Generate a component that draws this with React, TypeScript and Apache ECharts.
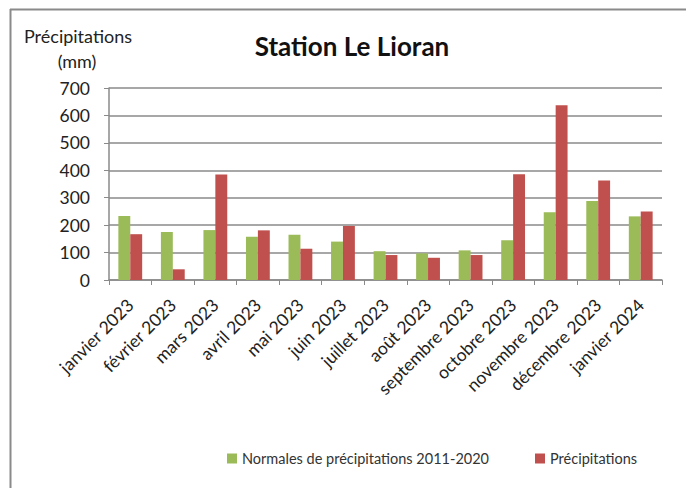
import React, { useEffect, useRef } from "react";
import * as echarts from "echarts";

const categories = [
  "janvier 2023", "février 2023", "mars 2023", "avril 2023", "mai 2023", "juin 2023",
  "juillet 2023", "août 2023", "septembre 2023", "octobre 2023", "novembre 2023",
  "décembre 2023", "janvier 2024",
];
const normales = [233, 175, 182, 158, 165, 140, 105, 97, 108, 145, 247, 288, 232];
const precipitations = [167, 39, 385, 181, 114, 197, 91, 81, 91, 386, 637, 363, 250];
const yTicks = [0, 100, 200, 300, 400, 500, 600, 700];

const FONT = "Lato, 'Open Sans', sans-serif";

export default function App() {
  const ref = useRef<HTMLDivElement>(null);
  useEffect(() => {
    const chart = echarts.init(ref.current!, null, { renderer: "svg" });
    chart.setOption({
      animation: false,
      backgroundColor: "#ffffff",
      textStyle: { fontFamily: FONT },
      title: {
        text: "Station Le Lioran",
        left: 347,
        textAlign: "center",
        top: 28,
        textStyle: { fontSize: 26, fontWeight: "bold", color: "#111", fontFamily: FONT },
      },
      graphic: [
        { type: "line", shape: { x1: 10, y1: 9.5, x2: 686, y2: 9.5 }, style: { stroke: "#8a8a8a", lineWidth: 2 } },
        { type: "line", shape: { x1: 10.5, y1: 9, x2: 10.5, y2: 488 }, style: { stroke: "#8a8a8a", lineWidth: 2 } },
        {
          type: "text", x: 78, y: 27,
          style: { text: "Précipitations", fill: "#222", font: `18px ${FONT}`, align: "center" },
        },
        {
          type: "text", x: 77, y: 52,
          style: { text: "(mm)", fill: "#222", font: `18px ${FONT}`, align: "center" },
        },
      ],
      legend: {
        bottom: 17,
        left: 222,
        itemWidth: 10,
        itemHeight: 10,
        itemGap: 46,
        icon: "rect",
        textStyle: { fontSize: 14.5, color: "#333", fontFamily: FONT },
        data: ["Normales de précipitations 2011-2020", "Précipitations"],
      },
      grid: { left: 109, right: 28, top: 88, bottom: 208, containLabel: false },
      xAxis: {
        type: "category",
        data: categories,
        axisLine: { lineStyle: { color: "#8a8a8a", width: 1.5 } },
        axisTick: { show: true, alignWithLabel: false, length: 5, lineStyle: { color: "#8a8a8a" } },
        axisLabel: { rotate: 45, fontSize: 17.5, color: "#222", fontFamily: FONT, interval: 0, margin: 22 },
      },
      yAxis: {
        type: "value",
        min: yTicks[0],
        max: yTicks[yTicks.length - 1],
        interval: 100,
        axisLine: { show: true, lineStyle: { color: "#8a8a8a", width: 1.5 } },
        axisTick: { show: true, length: 5, lineStyle: { color: "#8a8a8a" } },
        axisLabel: { fontSize: 17.5, color: "#222", fontFamily: FONT, margin: 19 },
        splitLine: { lineStyle: { color: "#8a8a8a", width: 1.5 } },
      },
      series: [
        {
          name: "Normales de précipitations 2011-2020",
          type: "bar",
          data: normales,
          itemStyle: { color: "#9BBB59" },
          barGap: "0%",
          barCategoryGap: "44%",
        },
        {
          name: "Précipitations",
          type: "bar",
          data: precipitations,
          itemStyle: { color: "#C0504D" },
          barGap: "0%",
          barCategoryGap: "44%",
        },
      ],
    });
    return () => chart.dispose();
  }, []);
  return <div ref={ref} style={{ width: 690, height: 488, position: "absolute", left: 0, top: 0 }} />;
}
